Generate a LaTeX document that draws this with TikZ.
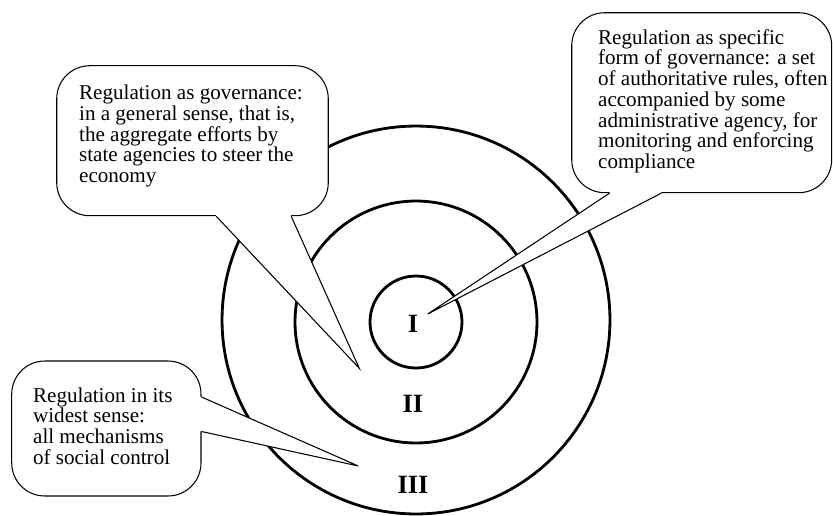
\documentclass[tikz,border=0pt]{standalone}
\usepackage{fontspec}
\setmainfont{Liberation Serif}
\usetikzlibrary{calc}

\tikzstyle{ring} = [circle, draw, line width=1.6pt, inner sep=0pt]
\tikzstyle{zone} = [font=\fontsize{15}{18}\selectfont\bfseries, inner sep=0pt]
\tikzstyle{bubble} = [draw, fill=white, rounded corners=0.66cm, line width=0.6pt, inner sep=0pt]
\tikzstyle{bubbletext} = [align=left, inner sep=0pt, anchor=west, font=\fontsize{12}{11.8}\selectfont]
\tikzstyle{pointer} = [line width=0.6pt]

\begin{document}
\begin{tikzpicture}[x=0.02cm, y=-0.02cm]
      \useasboundingbox (0,0) rectangle (833,515);
      \node[ring, minimum size=7.76cm] (outer) at (416,320) {};
      \node[ring, minimum size=4.84cm] (middle) at (416,322) {};
      \node[ring, minimum size=1.84cm] (inner) at (416,322) {};
      \node[zone] (one) at (413,324) {I};
      \node[zone] (two) at (413,404) {II};
      \node[zone] (three) at (413,485) {III};
      % governance
      \node[bubble, minimum width=5.432cm, minimum height=3cm] (govbox) at (192.5,140.7) {};
      \node[bubbletext, xshift=0.452cm, yshift=0.09cm] (govtext) at (govbox.west) {Regulation as governance:\\ in a general sense, that is,\\ the aggregate efforts by\\ state agencies to steer the\\ economy};
      \coordinate (govtip) at (359.3,368.3);
      \coordinate (govl) at ($(govbox.south west)+(160,0)$);
      \coordinate (govr) at ($(govbox.south west)+(235,0)$);
      \fill[white] (govl) -- (govtip) -- (govr) -- ++(0,-4) -- ($(govl)+(0,-4)$) -- cycle;
      \draw[pointer] (govl) -- (govtip) -- (govr);
      % specific rules
      \node[bubble, minimum width=5.2cm, minimum height=3.6cm] (rulebox) at (701.7,102.7) {};
      \node[bubbletext, xshift=0.532cm, yshift=0.03cm] (ruletext) at (rulebox.west) {Regulation as specific\\ form of governance: a set\\ of authoritative rules, often\\ accompanied by some\\ administrative agency, for\\ monitoring and enforcing\\ compliance};
      \coordinate (ruletip) at (427.7,314);
      \coordinate (rulel) at ($(rulebox.south west)+(38.3,0)$);
      \coordinate (ruler) at ($(rulebox.south west)+(90,0)$);
      \fill[white] (rulel) -- (ruletip) -- (ruler) -- ++(0,-4) -- ($(rulel)+(0,-4)$) -- cycle;
      \draw[pointer] (rulel) -- (ruletip) -- (ruler);
      % social control
      \node[bubble, minimum width=3.786cm, minimum height=2.7cm] (socbox) at (106.35,428.5) {};
      \node[bubbletext, xshift=0.432cm, yshift=0.05cm] (soctext) at (socbox.west) {Regulation in its\\ widest sense:\\ all mechanisms\\ of social control};
      \coordinate (soctip) at (358.3,466);
      \coordinate (socu) at ($(socbox.north east)+(0,36.5)$);
      \coordinate (socd) at ($(socbox.north east)+(0,71)$);
      \fill[white] (socu) -- (soctip) -- (socd) -- ++(-4,0) -- ($(socu)+(-4,0)$) -- cycle;
      \draw[pointer] (socu) -- (soctip) -- (socd);
    \end{tikzpicture}
\end{document}
